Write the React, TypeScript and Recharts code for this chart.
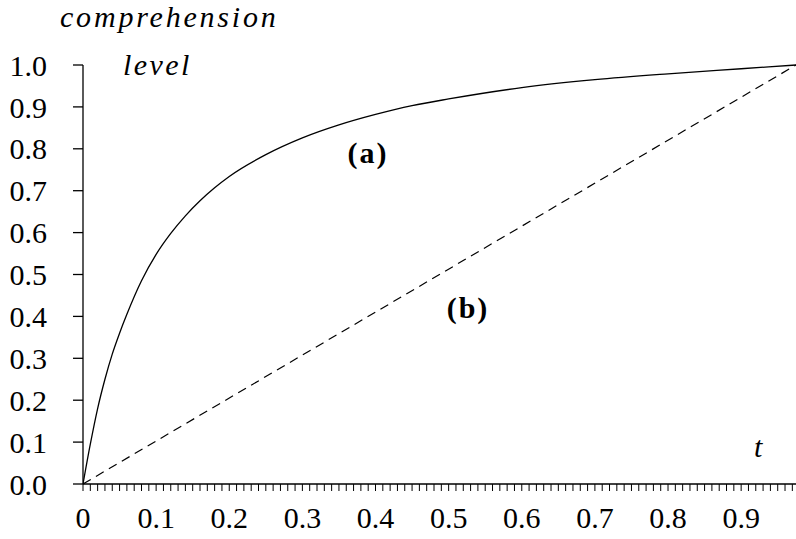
import React from 'react';
import { LineChart, Line, XAxis, YAxis } from 'recharts';

// curve (a): comprehension level vs t
const T_A = [0, 0.01, 0.02, 0.03, 0.04, 0.05, 0.06, 0.08, 0.1, 0.12, 0.14, 0.16, 0.18, 0.2, 0.25, 0.3, 0.35, 0.4, 0.45, 0.5, 0.6, 0.7, 0.8, 0.9, 0.975];
const LEVEL_A = [0, 0.095, 0.18, 0.25, 0.31, 0.36, 0.405, 0.485, 0.548, 0.598, 0.64, 0.676, 0.707, 0.734, 0.786, 0.826, 0.857, 0.882, 0.903, 0.919, 0.946, 0.965, 0.979, 0.991, 1.0];

// line (b): straight dashed line
const T_B = [0, 0.975];
const LEVEL_B = [0, 1.0];

const Y_TICKS = [0, 0.1, 0.2, 0.3, 0.4, 0.5, 0.6, 0.7, 0.8, 0.9, 1.0];
const X_LABELS = ['0', '0.1', '0.2', '0.3', '0.4', '0.5', '0.6', '0.7', '0.8', '0.9'];
const X_TICKS = Array.from({ length: 98 }, (_, i) => i / 100);

const dataA = T_A.map((t, i) => ({ t, v: LEVEL_A[i] }));
const dataB = T_B.map((t, i) => ({ t, v: LEVEL_B[i] }));

const FONT = 'Liberation Serif';
const textStyle: React.CSSProperties = { fontFamily: FONT, fontSize: 30, fill: '#000' };

function XTick(props: any) {
  const { x, y, payload } = props;
  const k = Math.round(payload.value * 100);
  if (k % 10 !== 0) return <g />;
  const label = X_LABELS[k / 10];
  return (
    <text x={x} y={y} dy="0.71em" textAnchor="middle" style={textStyle}>
      {label}
    </text>
  );
}

function YTick(props: any) {
  const { x, y, payload } = props;
  return (
    <text x={x} y={y} dy="0.355em" textAnchor="end" style={textStyle}>
      {Number(payload.value).toFixed(1)}
    </text>
  );
}

export default function App() {
  return (
    <div style={{ position: 'absolute', left: 0, top: 0, width: 796, height: 539, background: '#fff' }}>
      <LineChart width={796} height={539} margin={{ top: 65, right: 0, bottom: 0, left: 0 }}>
        <XAxis
          dataKey="t"
          type="number"
          domain={[0, 0.975]}
          ticks={X_TICKS}
          interval={0}
          height={55}
          tickSize={7}
          tickMargin={16}
          tick={<XTick />}
          axisLine={{ stroke: '#000', strokeWidth: 1.3 }}
          tickLine={{ stroke: '#000', strokeWidth: 1 }}
          allowDataOverflow
        />
        <YAxis
          type="number"
          domain={[0, 1]}
          ticks={Y_TICKS}
          interval={0}
          width={83}
          tickSize={10}
          tickMargin={26}
          tick={<YTick />}
          axisLine={{ stroke: '#000', strokeWidth: 1.3 }}
          tickLine={{ stroke: '#000', strokeWidth: 1.3 }}
        />
        <Line
          data={dataA}
          dataKey="v"
          type="monotone"
          stroke="#000"
          strokeWidth={1.3}
          dot={false}
          isAnimationActive={false}
        />
        <Line
          data={dataB}
          dataKey="v"
          type="linear"
          stroke="#000"
          strokeWidth={1.2}
          strokeDasharray="9 6"
          dot={false}
          isAnimationActive={false}
        />
      </LineChart>
      <svg width={796} height={539} style={{ position: 'absolute', left: 0, top: 0, pointerEvents: 'none' }}>
        <text x={60} y={27} style={{ ...textStyle, fontStyle: 'italic', letterSpacing: 2.8 }}>comprehension</text>
        <text x={123} y={75} style={{ ...textStyle, fontStyle: 'italic', letterSpacing: 2.4 }}>level</text>
        <text x={754} y={457} style={{ ...textStyle, fontStyle: 'italic' }}>t</text>
        <text x={368} y={163} textAnchor="middle" style={{ ...textStyle, fontWeight: 'bold', letterSpacing: 2 }}>(a)</text>
        <text x={468} y={318} textAnchor="middle" style={{ ...textStyle, fontWeight: 'bold', letterSpacing: 2 }}>(b)</text>
      </svg>
    </div>
  );
}
